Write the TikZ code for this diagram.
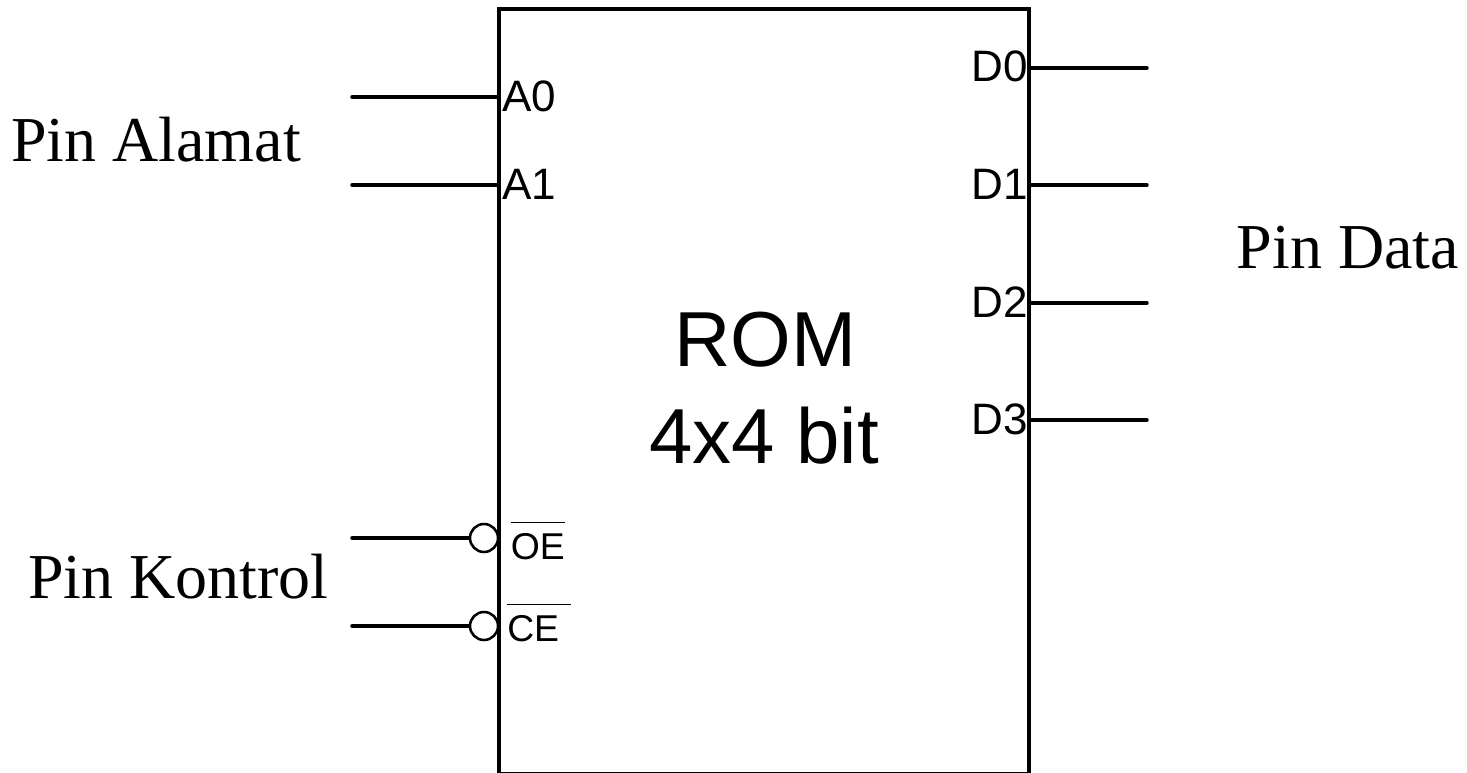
\documentclass[tikz,border=0pt]{standalone}
\usepackage{fontspec}
\setmainfont{Liberation Serif}
\newfontfamily\pinfont{Liberation Sans}
\usetikzlibrary{positioning}
\newcommand{\barlabel}[2]{\vbox{\hrule height 1.2pt \kern 8pt \hbox to #1{#2\hfil}}}

\begin{document}
\begin{tikzpicture}[
    x=0.75pt, y=-0.75pt,
    chip/.style={draw=black, line width=3pt, inner sep=0pt, minimum width=397.5pt, minimum height=573.75pt},
    wire/.style={line width=2.6pt, line cap=round},
    bubble/.style={circle, draw=black, fill=white, line width=1.9pt, inner sep=0pt, minimum size=21pt},
    pinlabel/.style={font=\pinfont\fontsize{33}{33}\selectfont, inner sep=0pt},
    ctrllabel/.style={font=\pinfont\fontsize{28}{28}\selectfont, inner sep=0pt},
    grouplabel/.style={font=\fontsize{48}{48}\selectfont, inner sep=0pt},
    romlabel/.style={font=\pinfont\fontsize{58.5}{68}\selectfont, align=center, inner sep=0pt}
  ]
    \useasboundingbox (0,0) rectangle (1467,773);
    % ROM chip
    \node[chip] (rom) at (764,391.5) {};
    \node[romlabel, anchor=base] (romname) at (765,367) {ROM};
    \node[romlabel, anchor=base] (romsize) at (764,463) {4x4 bit};
    % address pins
    \foreach \name/\ypos/\ybase in {A0/97/112, A1/185/200} {
      \coordinate (in\name) at (352,\ypos);
      \coordinate (pin\name) at (rom.west |- in\name);
      \draw[wire] (in\name) -- (pin\name);
      \node[pinlabel, anchor=base west] (label\name) at (502,\ybase) {\name};
    }
    % data pins
    \foreach \name/\ypos/\ybase in {D0/68/82, D1/185/200, D2/303/318, D3/420/435} {
      \coordinate (out\name) at (1147,\ypos);
      \coordinate (pin\name) at (rom.east |- out\name);
      \draw[wire] (pin\name) -- (out\name);
      \node[pinlabel, anchor=base east] (label\name) at (1028.5,\ybase) {\name};
    }
    % control pins
    \coordinate (inOE) at (352,538);
    \coordinate (inCE) at (352,626);
    \node[bubble] (bubOE) at (484,538) {};
    \node[bubble] (bubCE) at (484,626) {};
    \draw[wire] (inOE) -- (bubOE);
    \draw[wire] (inCE) -- (bubCE);
    \node[ctrllabel, anchor=south west] (labelOE) at (510.5,560.5) {\barlabel{40.5pt}{OE}};
    \node[ctrllabel, anchor=south west] (labelCE) at (507,642.5) {\barlabel{48pt}{CE}};
    % group names
    \node[grouplabel, anchor=base] (alamat) at (156,162) {Pin Alamat};
    \node[grouplabel, anchor=base] (kontrol) at (178.5,598) {Pin Kontrol};
    \node[grouplabel, anchor=base] (data) at (1348,269) {Pin Data};
\end{tikzpicture}
\end{document}
